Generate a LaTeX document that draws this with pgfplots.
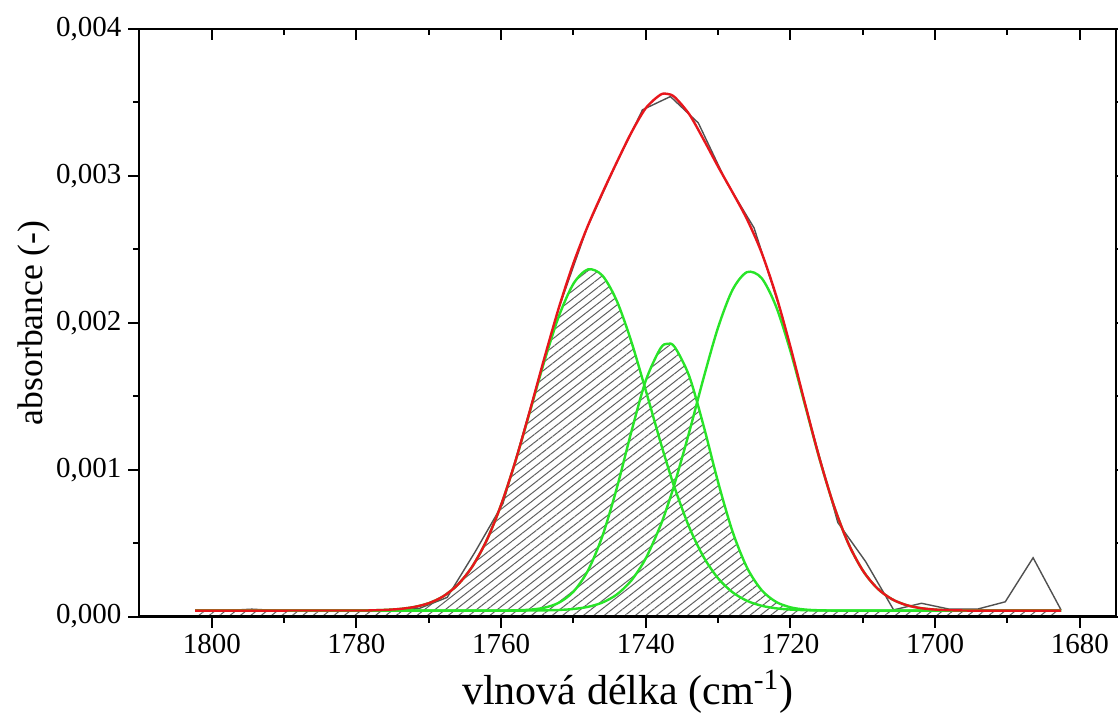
\documentclass[border=0pt]{standalone}
\usepackage{fontspec}
\setmainfont{Liberation Serif}
\usepackage{pgfplots}
\usepackage{pgfplotstable}
\pgfplotsset{compat=1.18}
\usetikzlibrary{calc,patterns.meta}
\definecolor{fitred}{RGB}{232,22,28}
\definecolor{pkgreen}{RGB}{40,228,40}
\definecolor{rawgray}{RGB}{80,80,80}
\definecolor{hatchgray}{RGB}{95,95,95}

% components (absorbance x 1000), each including the baseline
\pgfplotstableread{
x g1 g2 g3 fit
1802.3 0.040 0.040 0.040 0.040
1780 0.041 0.040 0.040 0.041
1778 0.042 0.040 0.040 0.042
1776 0.045 0.040 0.040 0.045
1774 0.0515 0.040 0.040 0.0515
1772 0.0649 0.040 0.040 0.0649
1770 0.0908 0.040 0.040 0.0908
1768 0.1376 0.040 0.040 0.1376
1766 0.2162 0.040 0.040 0.2162
1764 0.3395 0.040 0.040 0.3395
1762 0.5189 0.0401 0.040 0.5190
1760 0.7606 0.0405 0.040 0.7611
1758 1.0602 0.0419 0.0402 1.0623
1756 1.3987 0.0466 0.0407 1.4060
1754 1.7422 0.0602 0.0417 1.7641
1752 2.0471 0.0944 0.0445 2.1060
1750 2.2660 0.1696 0.0511 2.4067
1748 2.3632 0.3128 0.0657 2.6617
1746 2.3211 0.5480 0.0951 2.8842
1744 2.1474 0.8764 0.1503 3.0941
1742 1.8715 1.2576 0.2454 3.2945
1740 1.5377 1.6072 0.3964 3.4613
1738 1.1923 1.8235 0.6161 3.5519
1737 1.0281 1.8569 0.7529 3.5579
1736 0.8741 1.8345 0.9070 3.5356
1734 0.6080 1.6364 1.2553 3.4197
1732 0.4040 1.2957 1.6267 3.2464
1730 0.2595 0.9132 1.9695 3.0622
1728 0.1645 0.5769 2.2253 2.8867
1726 0.1065 0.3320 2.3449 2.7034
1724 0.0734 0.1803 2.3043 2.4780
1722 0.0558 0.0997 2.1116 2.1871
1720 0.0470 0.0624 1.8053 1.8347
1718 0.0429 0.0474 1.4411 1.4514
1716 0.0412 0.0422 1.0756 1.0790
1714 0.0404 0.0406 0.7529 0.7539
1712 0.040 0.0401 0.4971 0.4973
1710 0.040 0.040 0.3130 0.3130
1708 0.040 0.040 0.1918 0.1918
1706 0.040 0.040 0.1187 0.1187
1704 0.040 0.040 0.0780 0.0780
1702 0.040 0.040 0.0570 0.0570
1700 0.040 0.040 0.0471 0.0471
1698 0.040 0.040 0.0428 0.0428
1696 0.040 0.040 0.0410 0.0410
1694 0.040 0.040 0.0400 0.0400
1682.6 0.040 0.040 0.040 0.040
}\comp

% hatched area: upper envelope of peaks 1 and 2
\pgfplotstableread{
x y
1802.3 0.040
1780 0.041
1778 0.042
1776 0.045
1774 0.0515
1772 0.0649
1770 0.0908
1768 0.1376
1766 0.2162
1764 0.3395
1762 0.5189
1760 0.7606
1758 1.0602
1756 1.3987
1754 1.7422
1752 2.0471
1750 2.2660
1748 2.3632
1746 2.3211
1744 2.1474
1742 1.8715
1740.2 1.575
}\hatchA
\pgfplotstableread{
x y
1740.2 1.575
1740 1.6072
1738 1.8235
1737 1.8569
1736 1.8345
1734 1.6364
1732 1.2957
1730 0.9132
1728 0.5769
1726 0.3320
1724 0.1803
1722 0.0997
1720 0.0624
1718 0.0474
1716 0.0422
1714 0.0406
1712 0.0401
1682.6 0.040
}\hatchB

% measured spectrum
\pgfplotstableread{
x y
1682.60 0.045
1686.46 0.40
1690.31 0.10
1694.17 0.05
1698.03 0.05
1701.89 0.09
1705.74 0.045
1709.60 0.373
1713.46 0.64
1717.31 1.32
1721.17 2.05
1725.03 2.645
1728.88 2.96
1732.74 3.36
1736.60 3.54
1740.46 3.45
1744.31 3.06
1748.17 2.64
1752.03 2.10
1755.89 1.43
1759.74 0.77
1763.60 0.44
1767.46 0.13
1771.31 0.055
1775.17 0.042
1779.03 0.040
1782.89 0.040
1786.74 0.040
1790.60 0.040
1794.46 0.050
1798.31 0.040
1802.17 0.040
}\raw

\begin{document}
\begin{tikzpicture}
\pgfplotsset{
  common/.style={
    scale only axis, width=488.25pt, height=293.75pt,
    xmin=1675, xmax=1810, x dir=reverse,
    ymin=0, ymax=4,
    xtick={1680,1700,1720,1740,1760,1780,1800},
    minor x tick num=1, minor y tick num=1,
    major tick length=5.5pt, minor tick length=3pt,
    tick style={black, line width=1pt},
    axis line style={line width=1pt},
    /pgf/number format/assume math mode=true,
    tick label style={font=\fontsize{14.5pt}{17pt}\selectfont},
  }
}
\begin{axis}[common, name=main,
  tick align=outside,
  xtick pos=left, ytick pos=both,
  xticklabels={1680,1700,1720,1740,1760,1780,1800},
  ytick={0,1,2,3,4},
  yticklabels={{0,000},{0,001},{0,002},{0,003},{0,004}},
  yticklabel pos=left,
  xlabel={vlnová délka (cm\textsuperscript{-1})},
  ylabel={absorbance (-)},
  xlabel style={font=\fontsize{21pt}{24pt}\selectfont, yshift=-1pt},
  ylabel style={font=\fontsize{17.8pt}{21pt}\selectfont, yshift=-4pt},
  clip=true,
]
\addplot[draw=none, pattern={Lines[angle=38,distance=3.2pt,line width=0.5pt]}, pattern color=hatchgray, smooth] table[x=x,y=y]{\hatchA} \closedcycle;
\addplot[draw=none, pattern={Lines[angle=38,distance=3.2pt,line width=0.5pt]}, pattern color=hatchgray, smooth] table[x=x,y=y]{\hatchB} \closedcycle;
\addplot[rawgray, line width=0.7pt] table[x=x,y=y]{\raw};
\addplot[pkgreen, line width=1.2pt, smooth] table[x=x,y=g1]{\comp};
\addplot[pkgreen, line width=1.2pt, smooth] table[x=x,y=g2]{\comp};
\addplot[pkgreen, line width=1.2pt, smooth] table[x=x,y=g3]{\comp};
\addplot[fitred, line width=1.2pt, smooth] table[x=x,y=fit]{\comp};
\end{axis}
\begin{axis}[common,
  tick align=inside,
  xtick pos=right, xticklabels={},
  ytick=\empty,
]
\end{axis}
\pgfresetboundingbox
\path ($(main.south west)+(-69.75pt,-52.75pt)$) rectangle ($(main.north east)+(1pt,14.5pt)$);
\end{tikzpicture}
\end{document}
